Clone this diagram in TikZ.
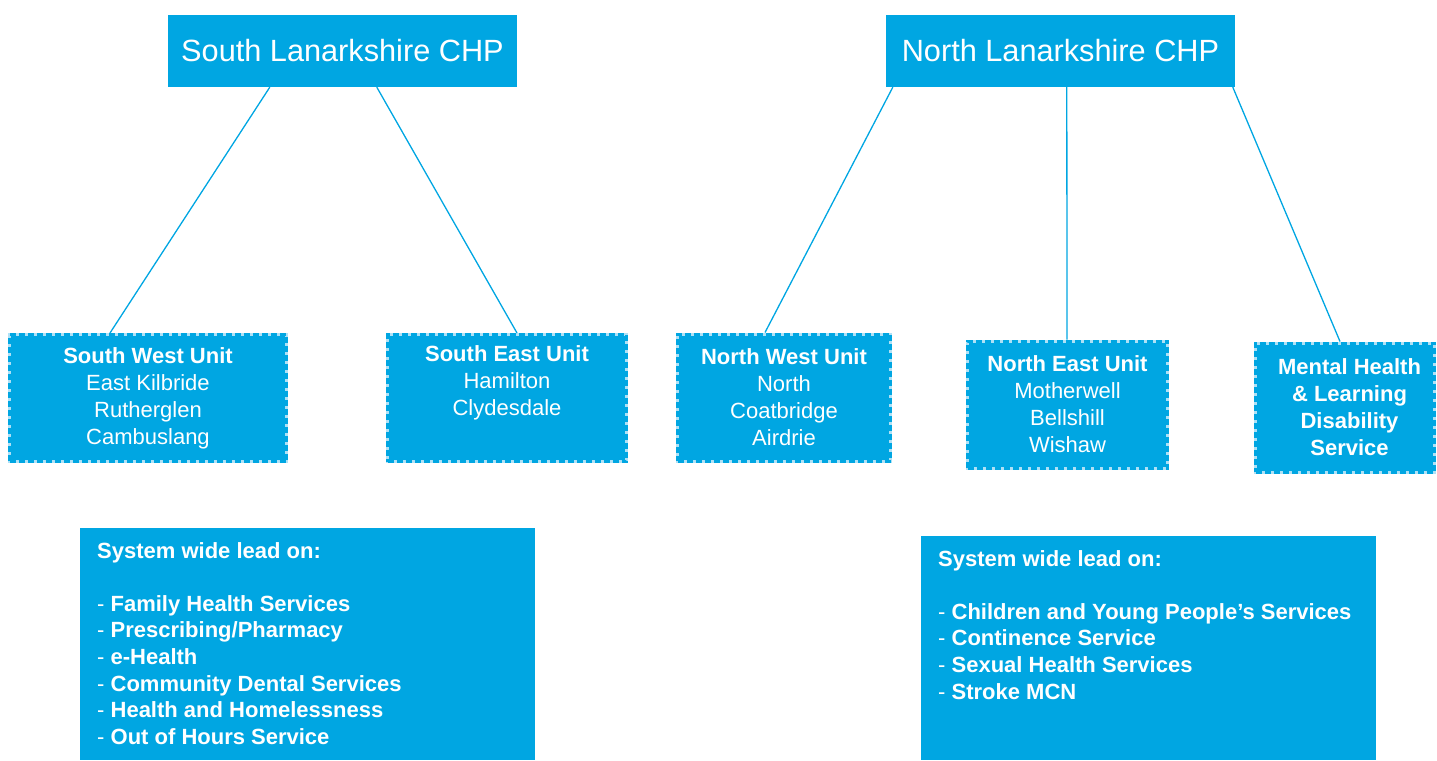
\documentclass[tikz,border=0pt]{standalone}
\usepackage{fontspec}
\setmainfont{Liberation Sans}
\usetikzlibrary{calc}
\definecolor{chp}{RGB}{0,166,226}
\definecolor{chplight}{RGB}{175,225,246}
\tikzset{
  chpbox/.style={fill=chp, text=white, inner sep=0pt, align=center,
    font=\fontsize{30.7}{36}\selectfont},
  unitbox/.style={fill=chp, draw=chplight, line width=3pt, text=white, inner sep=0pt,
    align=center, font=\fontsize{22}{27}\selectfont,
    postaction={draw=chp, line width=3pt, dash pattern=on 6pt off 3pt}},
  leadbox/.style={fill=chp, inner sep=0pt, anchor=north west},
  leadtext/.style={text=white, inner sep=0pt, anchor=north west, align=left,
    font=\fontsize{22}{26.6}\selectfont\bfseries},
  link/.style={draw=chp, line width=1.3pt}
}
\newcommand{\mhshift}{\hspace*{9pt}}
\begin{document}
\begin{tikzpicture}[x=1pt,y=-1pt]
\useasboundingbox (0,0) rectangle (1437,760);
% top boxes
\node[chpbox, minimum width=349pt, minimum height=72pt] (sl) at (342.5,51) {South Lanarkshire CHP};
\node[chpbox, minimum width=349pt, minimum height=72pt] (nl) at (1060.5,51) {North Lanarkshire CHP};
% unit boxes
\node[unitbox, minimum width=277pt, minimum height=127pt] (sw) at (148,398)
  {\textbf{South West Unit}\\East Kilbride\\Rutherglen\\Cambuslang};
\node[unitbox, minimum width=239pt, minimum height=127pt] (se) at (507,398)
  {\textbf{South East Unit}\\Hamilton\\Clydesdale\\\strut};
\node[unitbox, minimum width=213pt, minimum height=127pt] (nw) at (784,397.5)
  {\textbf{North West Unit}\\North\\Coatbridge\\Airdrie};
\node[unitbox, minimum width=200pt, minimum height=127pt] (ne) at (1067.5,404.5)
  {\textbf{North East Unit}\\Motherwell\\Bellshill\\Wishaw};
\node[unitbox, minimum width=179pt, minimum height=129pt] (mh) at (1345,407.5)
  {\mhshift\textbf{Mental Health}\\\mhshift\textbf{\& Learning}\\\mhshift\textbf{Disability}\\\mhshift\textbf{Service}};
% connectors
\draw[link] ([xshift=102pt]sl.south west) -- ([xshift=102pt]sw.north west);
\draw[link] ([xshift=209pt]sl.south west) -- ([xshift=131pt]se.north west);
\draw[link] ([xshift=7pt]nl.south west) -- ([xshift=89pt]nw.north west);
\draw[link] ([xshift=181pt]nl.south west) -- ([xshift=101pt]ne.north west);
\draw[link] ([xshift=347pt]nl.south west) -- ([xshift=86pt]mh.north west);
% lead boxes
\node[leadbox, minimum width=455pt, minimum height=232pt] (sbox) at (80,528) {};
\node[leadtext] (stext) at ([xshift=17pt,yshift=-14pt]sbox.north west)
  {System wide lead on:\\[26.6pt]
   {\mdseries -} Family Health Services\\
   {\mdseries -} Prescribing/Pharmacy\\
   {\mdseries -} e-Health\\
   {\mdseries -} Community Dental Services\\
   {\mdseries -} Health and Homelessness\\
   {\mdseries -} Out of Hours Service};
\node[leadbox, minimum width=455pt, minimum height=224pt] (nbox) at (921,536) {};
\node[leadtext] (ntext) at ([xshift=17pt,yshift=-14pt]nbox.north west)
  {System wide lead on:\\[26.6pt]
   {\mdseries -} Children and Young People’s Services\\
   {\mdseries -} Continence Service\\
   {\mdseries -} Sexual Health Services\\
   {\mdseries -} Stroke MCN};
\end{tikzpicture}
\end{document}
